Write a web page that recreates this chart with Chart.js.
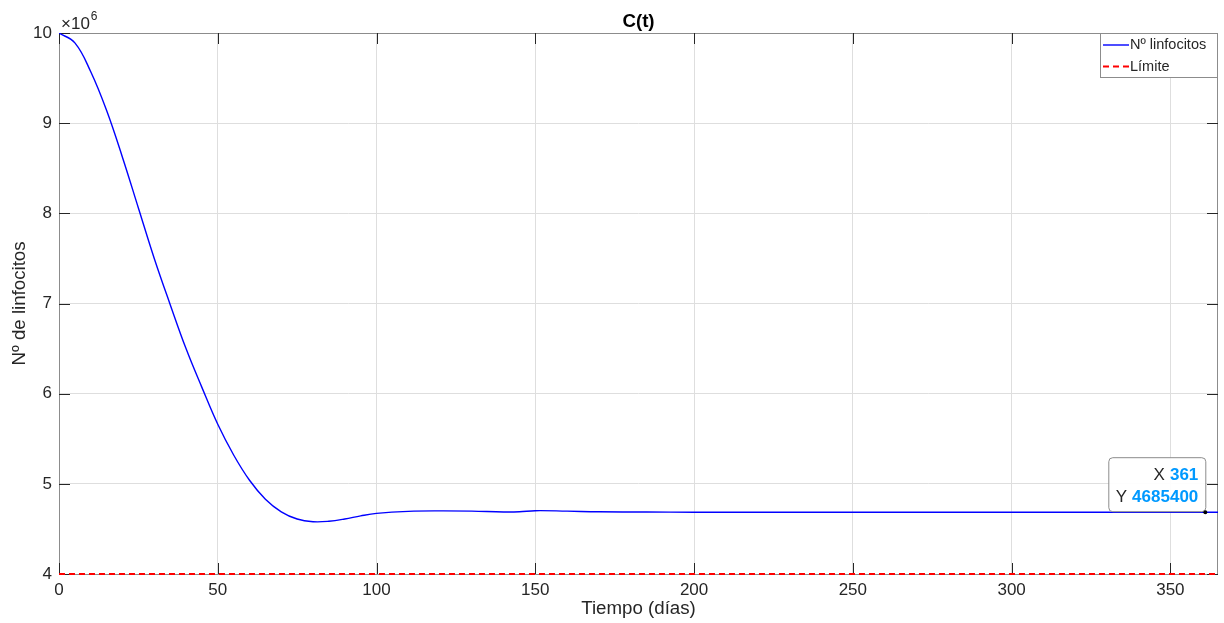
<!DOCTYPE html>
<html>
<head>
<meta charset="utf-8">
<script src="https://cdn.jsdelivr.net/npm/chart.js@4.4.1/dist/chart.umd.min.js"></script>
<style>
  html, body { margin: 0; padding: 0; background: #fff; }
</style>
</head>
<body>
<canvas id="chart" width="1224" height="623"></canvas>
<script>
// C(t) -- number of lymphocytes over time
const days = [0, 5, 10, 15, 20, 25, 30, 35, 40, 45, 50, 55, 60, 65, 70, 75, 80, 85, 90, 95, 100, 110, 120, 130, 140, 145, 150, 160, 170, 185, 200, 250, 300, 361, 365];
const lymphocytes = [10.0e6, 9.89e6, 9.57e6, 9.14e6, 8.62e6, 8.06e6, 7.5e6, 6.99e6, 6.5e6, 6.07e6, 5.66e6, 5.32e6, 5.04e6, 4.83e6, 4.69e6, 4.61e6, 4.58e6, 4.585e6, 4.61e6, 4.645e6, 4.672e6, 4.695e6, 4.70e6, 4.697e6, 4.688e6, 4.69e6, 4.702e6, 4.697e6, 4.69e6, 4.687e6, 4.6856e6, 4.6854e6, 4.6854e6, 4685400, 4.6854e6];
const limitDays = [0, 365];
const limitValues = [4e6, 4e6];
const xTicks = [0, 50, 100, 150, 200, 250, 300, 350];
const yTicks = [4e6, 5e6, 6e6, 7e6, 8e6, 9e6, 10e6];
const tipDay = 361;
const tipValue = 4685400;

const FONT = '"Liberation Sans", Arial, Helvetica, sans-serif';
const AXIS = '#262626';

const toPoints = (xs, ys) => xs.map((x, i) => ({ x: x, y: ys[i] }));

// box, ticks on all four sides, like a matlab axes
const framePlugin = {
  id: 'frame',
  beforeDatasetsDraw(chart) {
    const { ctx, chartArea: a, scales } = chart;
    ctx.save();
    ctx.strokeStyle = '#8c8c8c';
    ctx.lineWidth = 1;
    ctx.strokeRect(a.left + 0.5, a.top + 0.5, a.right - a.left - 1, a.bottom - a.top);
    ctx.strokeStyle = AXIS;
    ctx.beginPath();
    const len = 11;
    xTicks.forEach(v => {
      const x = Math.round(scales.x.getPixelForValue(v)) + 0.5;
      ctx.moveTo(x, a.bottom); ctx.lineTo(x, a.bottom - len);
      ctx.moveTo(x, a.top); ctx.lineTo(x, a.top + len);
    });
    yTicks.forEach(v => {
      const y = Math.round(scales.y.getPixelForValue(v)) + 0.5;
      ctx.moveTo(a.left, y); ctx.lineTo(a.left + len, y);
      ctx.moveTo(a.right, y); ctx.lineTo(a.right - len, y);
    });
    ctx.stroke();
    ctx.restore();
  },
  afterDraw(chart) {
    const { ctx, chartArea: a, scales } = chart;
    ctx.save();
    // title
    ctx.fillStyle = '#000';
    ctx.font = 'bold 18.7px ' + FONT;
    ctx.textAlign = 'center';
    ctx.textBaseline = 'alphabetic';
    ctx.fillText('C(t)', (a.left + a.right) / 2, a.top - 6);

    // exponent
    ctx.fillStyle = AXIS;
    ctx.textAlign = 'left';
    ctx.font = '17px ' + FONT;
    ctx.fillText('\u00d710', a.left + 2, a.top - 4);
    const w = ctx.measureText('\u00d710').width;
    ctx.font = '12px ' + FONT;
    ctx.fillText('6', a.left + 3 + w, a.top - 13);

    // legend
    const lw = 118, lh = 44;
    const lx = a.right - lw, ly = a.top;
    ctx.fillStyle = '#fff';
    ctx.fillRect(lx, ly, lw, lh);
    ctx.strokeStyle = '#8c8c8c';
    ctx.lineWidth = 1;
    ctx.strokeRect(lx + 0.5, ly + 0.5, lw - 1, lh);
    ctx.font = '14.5px ' + FONT;
    ctx.textBaseline = 'middle';
    chart.data.datasets.forEach((ds, i) => {
      const y = ly + 12 + i * 21.5;
      ctx.strokeStyle = ds.borderColor;
      ctx.lineWidth = ds.borderWidth;
      ctx.setLineDash(ds.borderDash || []);
      ctx.beginPath();
      ctx.moveTo(lx + 3, y); ctx.lineTo(lx + 29, y);
      ctx.stroke();
      ctx.setLineDash([]);
      ctx.fillStyle = AXIS;
      ctx.fillText(ds.label, lx + 30, y);
    });

    // data tip
    const px = scales.x.getPixelForValue(tipDay);
    const py = scales.y.getPixelForValue(tipValue);
    const bw = 97, bh = 54;
    const bx = px - bw, by = py - bh - 1;
    ctx.lineWidth = 1;
    ctx.fillStyle = 'rgba(255,255,255,0.92)';
    ctx.strokeStyle = '#8c8c8c';
    ctx.beginPath();
    ctx.roundRect(bx + 0.5, by + 0.5, bw, bh, 4);
    ctx.fill();
    ctx.stroke();
    const rows = [['X', String(tipDay)], ['Y', String(tipValue)]];
    rows.forEach((r, i) => {
      const y = py - 37 + i * 22;
      ctx.textAlign = 'right';
      ctx.font = 'bold 17px ' + FONT;
      ctx.fillStyle = '#0099ff';
      ctx.fillText(r[1], px - 7, y);
      const vw = ctx.measureText(r[1]).width;
      ctx.font = '17px ' + FONT;
      ctx.fillStyle = AXIS;
      ctx.fillText(r[0], px - 12 - vw, y);
    });
    ctx.fillStyle = '#000';
    ctx.beginPath();
    ctx.arc(px, py, 2, 0, Math.PI * 2);
    ctx.fill();
    ctx.restore();
  }
};

new Chart(document.getElementById('chart'), {
  type: 'line',
  data: {
    datasets: [
      {
        label: 'N\u00ba linfocitos',
        data: toPoints(days, lymphocytes),
        borderColor: '#0000ff',
        borderWidth: 1.4,
        pointRadius: 0,
        tension: 0.4,
        fill: false
      },
      {
        label: 'L\u00edmite',
        data: toPoints(limitDays, limitValues),
        borderColor: '#ff0000',
        borderWidth: 2,
        borderDash: [6, 4],
        pointRadius: 0,
        clip: false,
        fill: false
      }
    ]
  },
  options: {
    responsive: false,
    animation: false,
    layout: { padding: { top: 33, right: 6, left: 0, bottom: 0 } },
    plugins: {
      legend: { display: false },
      tooltip: { enabled: false },
      title: { display: false }
    },
    scales: {
      x: {
        type: 'linear',
        min: 0,
        max: 365,
        afterBuildTicks: s => { s.ticks = xTicks.map(v => ({ value: v })); },
        afterFit: s => { s.height = 49; },
        grid: { color: '#dedede', drawTicks: false },
        border: { display: false },
        ticks: { color: AXIS, font: { family: FONT, size: 17 }, padding: 6, maxRotation: 0 },
        title: {
          display: true,
          text: 'Tiempo (d\u00edas)',
          color: AXIS,
          font: { family: FONT, size: 18.7 },
          padding: { top: 0, bottom: 3 }
        }
      },
      y: {
        min: 4e6,
        max: 10e6,
        afterBuildTicks: s => { s.ticks = yTicks.map(v => ({ value: v })); },
        afterFit: s => { s.width = 59; },
        grid: { color: '#dedede', drawTicks: false },
        border: { display: false },
        ticks: {
          color: AXIS,
          font: { family: FONT, size: 17 },
          padding: 7,
          callback: v => String(v / 1e6)
        },
        title: {
          display: true,
          text: 'N\u00ba de linfocitos',
          color: AXIS,
          font: { family: FONT, size: 18.7 },
          padding: { top: 9, bottom: 0 }
        }
      }
    }
  },
  plugins: [framePlugin]
});
</script>
</body>
</html>
